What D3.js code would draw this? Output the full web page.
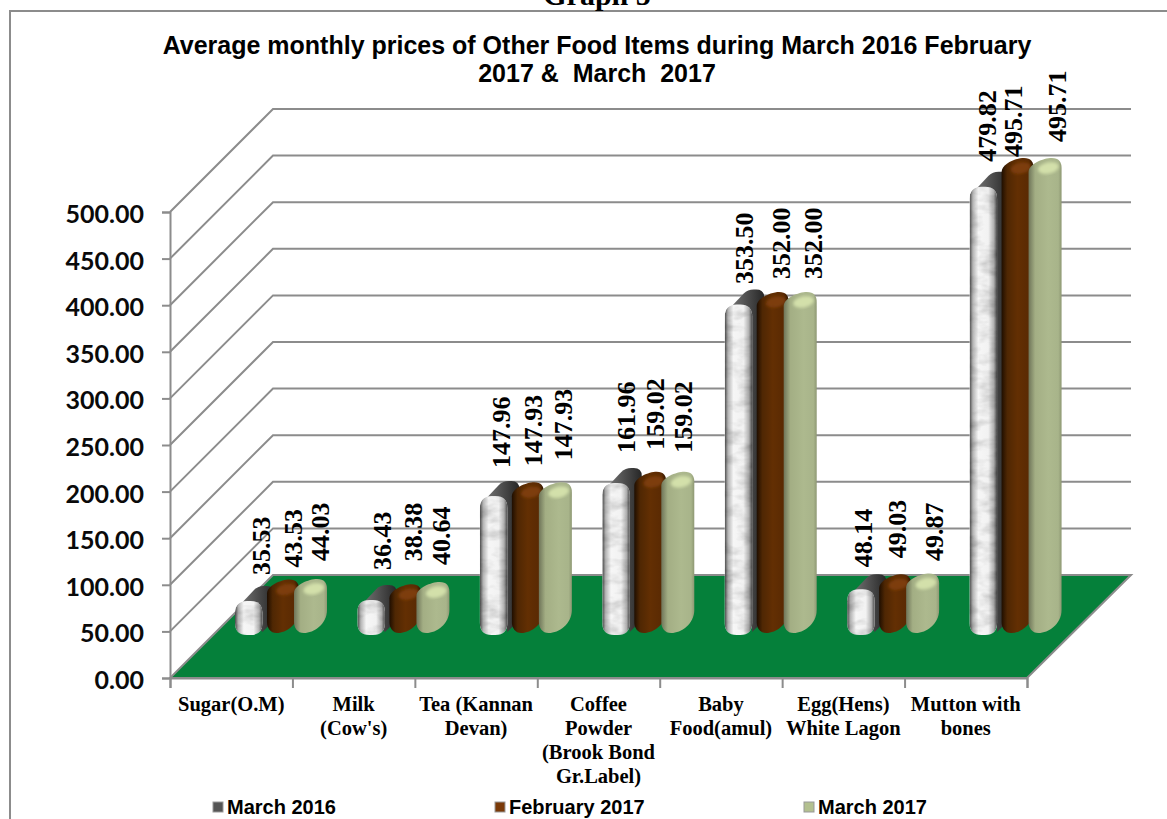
<!DOCTYPE html>
<html lang="en">
	<head>
		<meta charset="UTF-8">
		<title>Graph 5</title>
		<style>
			html,body{margin:0;padding:0;background:#fff;overflow:hidden;}
			svg{display:block;}
			.title{font:bold 25px "Liberation Sans",sans-serif;text-anchor:middle;fill:#000;}
			.axis path,.axis line{fill:none;stroke:#8c8c8c;stroke-width:2;}
			.y.axis text{font:bold 25px Lato,sans-serif;fill:#0a0a0a;}
			.cat{font:bold 20.5px "Liberation Serif",serif;text-anchor:middle;fill:#000;}
			.val{font:bold 26px "Liberation Serif",serif;fill:#000;}
			.legend{font:bold 20px "Liberation Sans",sans-serif;fill:#000;}
			.grid{fill:none;stroke:#8c8c8c;stroke-width:2;}
		</style>
	</head>
	<body>
	<script src="https://cdnjs.cloudflare.com/ajax/libs/d3/7.8.5/d3.min.js"></script>
	<script type="text/javascript">
		// data
		var categories = ["Sugar(O.M)","Milk (Cow's)","Tea (Kannan Devan)","Coffee Powder (Brook Bond Gr.Label)","Baby Food(amul)","Egg(Hens) White Lagon","Mutton with bones"];
		var categoryLines = [["Sugar(O.M)"],["Milk","(Cow's)"],["Tea (Kannan","Devan)"],["Coffee","Powder","(Brook Bond","Gr.Label)"],["Baby","Food(amul)"],["Egg(Hens)","White Lagon"],["Mutton with","bones"]];
		var seriesNames = ["March 2016","February 2017","March 2017"];
		var march2016 = [35.53,36.43,147.96,161.96,353.50,48.14,479.82];
		var february2017 = [43.53,38.38,147.93,159.02,352.00,49.03,495.71];
		var march2017 = [44.03,40.64,147.93,159.02,352.00,49.87,495.71];
		var yTicks = [0,50,100,150,200,250,300,350,400,450,500];

		var seriesValues = [march2016,february2017,march2017];
		var width = 1167, height = 819;
		// plot box of the fake 3d chart
		var left = 170, right = 1027, bottom = 678, top_ = 212;
		var depth = 103, barDepth = 44;

		var svg = d3.select("body").append("svg").attr("width",width).attr("height",height);
		var defs = svg.append("defs");

		function hGrad(id,stops){
			var g = defs.append("linearGradient").attr("id",id);
			stops.forEach(function(s){
				g.append("stop").attr("offset",s[0]).attr("stop-color",s[1]);
			});
		}
		hGrad("gWhite",[[0,"#4a4a4a"],[.12,"#b4b4b4"],[.32,"#f6f6f6"],[.68,"#f2f2f2"],[.88,"#b0b0b0"],[1,"#4a4a4a"]]);
		hGrad("gDark",[[0,"#7a7a7a"],[.5,"#505050"],[1,"#262626"]]);
		hGrad("gBrown",[[0,"#1f0e00"],[.18,"#4f2703"],[.5,"#632f03"],[.85,"#5a2a03"],[1,"#2a1400"]]);
		hGrad("gGreen",[[0,"#6f7559"],[.2,"#a3ae84"],[.6,"#adb98e"],[.9,"#a8b48a"],[1,"#8e9873"]]);

		//白色柱子的大理石纹理
		var marble = defs.append("filter").attr("id","marble").attr("x","0").attr("y","0").attr("width","1").attr("height","1");
		marble.append("feTurbulence").attr("type","fractalNoise").attr("baseFrequency","0.05 0.1").attr("numOctaves",3).attr("seed",4).attr("result","n");
		marble.append("feColorMatrix").attr("in","n").attr("type","matrix")
			.attr("values","0.7 0 0 0 0.58  0.7 0 0 0 0.58  0.7 0 0 0 0.58  0 0 0 0 1").attr("result","g");
		marble.append("feBlend").attr("in","SourceGraphic").attr("in2","g").attr("mode","multiply").attr("result","m");
		marble.append("feComposite").attr("in","m").attr("in2","SourceAlpha").attr("operator","in");
		defs.append("filter").attr("id","soft").append("feGaussianBlur").attr("stdDeviation",1.8);

		var y = d3.scaleLinear().domain([0,500]).range([bottom,top_]);
		var x = d3.scaleBand().domain(categories).range([left,right]);
		var xEdge = d3.scaleLinear().domain([0,categories.length]).range([left,right]);

		// page frame, title
		svg.append("path").attr("d","M10,819V11H1167").attr("fill","none").attr("stroke","#8c8c8c").attr("stroke-width",2);
		svg.append("text").attr("x",597).attr("y",5).style("font",'bold 30px "Liberation Serif",serif').attr("text-anchor","middle").text("Graph 5");
		svg.append("text").attr("class","title").attr("x",597).attr("y",54).text("Average monthly prices of Other Food Items during March 2016 February");
		svg.append("text").attr("class","title").attr("x",597).attr("y",82).style("white-space","pre").text("2017 &  March  2017");

		// walls and floor
		var gridLine = d3.line().x(function(d){return d[0];}).y(function(d){return d[1];});
		svg.append("g").selectAll("path").data(yTicks.slice(1)).enter().append("path")
			.attr("class","grid")
			.attr("d",function(d){
				return gridLine([[left,y(d)],[left+depth,y(d)-depth],[right+depth+1,y(d)-depth]]);
			});
		svg.append("path")
			.attr("d",gridLine([[left,bottom],[right,bottom],[right+depth+1,bottom-depth],[left+depth,bottom-depth]])+"Z")
			.attr("fill","#05803a").attr("stroke","#8c8c8c").attr("stroke-width",2);

		svg.append("g").attr("class","y axis")
			.attr("transform","translate("+left+",0)")
			.call(d3.axisLeft(y).tickValues(yTicks).tickFormat(function(d){return d.toFixed(2);}).tickSize(8).tickPadding(18))
			.selectAll("text").attr("dy","0.42em");
		svg.append("g").attr("class","x axis")
			.attr("transform","translate(0,"+bottom+")")
			.call(d3.axisBottom(xEdge).ticks(categories.length).tickFormat("").tickSize(10));

		// bar placement inside a category band
		var barLeft = [65,97,124], barWidth = [27.5,32,33], barFill = ["url(#gWhite)","url(#gBrown)","url(#gGreen)"];
		var capFill = [null,"#7d3c08","#d3e0aa"];

		function whiteBar(x0,w,t,b){
			var r = 12;
			return "M"+x0+","+(b-r)+"V"+(t+r)+"Q"+x0+","+t+" "+(x0+r)+","+t+"H"+(x0+w-r)+"Q"+(x0+w)+","+t+" "+(x0+w)+","+(t+r)+
				"V"+(b-r)+"Q"+(x0+w)+","+b+" "+(x0+w-r)+","+b+"H"+(x0+r)+"Q"+x0+","+b+" "+x0+","+(b-r)+"Z";
		}
		function darkBack(x0,w,t,b){
			return "M"+(x0+3)+","+(t+6)+"L"+(x0+19)+","+(t-11)+"Q"+(x0+23)+","+(t-15)+" "+(x0+29)+","+(t-15)+"H"+(x0+w+4)+"Q"+(x0+w+12)+","+(t-15)+" "+(x0+w+12)+","+(t-7)+
				"V"+(b-14)+"L"+(x0+w)+","+(b-2)+"Z";
		}
		// rounded bar seen from the left: cap and foot climb to the right
		function roundBar(x0,w,t,b){
			return "M"+x0+","+(b-12)+"V"+t+"C"+x0+","+(t-8)+" "+(x0+w*.45)+","+(t-14)+" "+(x0+w*.7)+","+(t-14)+
				"C"+(x0+w*.92)+","+(t-14)+" "+(x0+w)+","+(t-10)+" "+(x0+w)+","+(t-4)+
				"V"+(b-24)+"C"+(x0+w)+","+(b-10)+" "+(x0+w*.6)+","+(b-1)+" "+(x0+w*.3)+","+(b-1)+
				"C"+(x0+w*.1)+","+(b-1)+" "+x0+","+(b-6)+" "+x0+","+(b-12)+"Z";
		}

		var barsG = svg.append("g");
		categories.forEach(function(c,i){
			var g = barsG.append("g");
			var b = y(0)-barDepth;
			seriesValues.forEach(function(values,s){
				var x0 = x(c)+barLeft[s], w = barWidth[s], t = y(values[i])-barDepth;
				if(s===0){
					g.append("path").attr("d",darkBack(x0,w,t,b)).attr("fill","url(#gDark)");
					g.append("path").attr("d",whiteBar(x0,w,t,b+1)).attr("fill","url(#gWhite)").attr("filter","url(#marble)");
				}else{
					g.append("path").attr("d",roundBar(x0,w,t,b)).attr("fill",barFill[s]);
					g.append("ellipse").attr("cx",x0+w*.6).attr("cy",t-4).attr("rx",w*.32).attr("ry",5.5)
						.attr("transform","rotate(-12 "+(x0+w*.6)+" "+(t-4)+")")
						.attr("fill",capFill[s]).attr("filter","url(#soft)");
				}
			});
		});

		// value labels were dragged by hand in the original, so each keeps its own shift and gap
		var labelDx = [
			[12.3,10.8,7.4,10,5.5,2.1,3.7],
			[10,7.6,5.1,4.7,8.3,1.9,-4.6],
			[9.5,8.1,7.6,5.2,12.8,11.4,11.9]
		];
		var labelGap = [
			[26,30,28,30,20.5,22,25],
			[26,37,30,36,27,30,15],
			[32,31,36,33,27,26.5,30]
		];
		seriesValues.forEach(function(values,s){
			svg.append("g").selectAll("text").data(values).enter().append("text")
				.attr("class","val")
				.attr("transform",function(d,i){
					var px = x(categories[i])+barLeft[s]+barWidth[s]/2+labelDx[s][i]+8.8;
					var py = y(d)-barDepth-labelGap[s][i];
					return "translate("+px+","+py+") rotate(-90)";
				})
				.text(function(d){return d.toFixed(2);});
		});

		// category labels
		svg.append("g").selectAll("text").data(categoryLines).enter().append("text")
			.attr("class","cat")
			.attr("transform",function(d,i){return "translate("+(x(categories[i])+x.bandwidth()/2)+",711)";})
			.selectAll("tspan").data(function(d){return d;}).enter().append("tspan")
			.attr("x",0).attr("y",function(d,i){return i*24;})
			.text(function(d){return d;});

		// legend
		var legendX = [213,495,804], legendSwatch = ["#555","#7a3a08","#b3c08f"];
		var lg = svg.append("g").selectAll("g").data(seriesNames).enter().append("g")
			.attr("transform",function(d,i){return "translate("+legendX[i]+",0)";});
		lg.append("rect").attr("y",802).attr("width",10).attr("height",10)
			.attr("fill",function(d,i){return legendSwatch[i];}).attr("stroke","#999");
		lg.append("text").attr("class","legend").attr("x",14).attr("y",814).text(function(d){return d;});
	</script>
	</body>
</html>
